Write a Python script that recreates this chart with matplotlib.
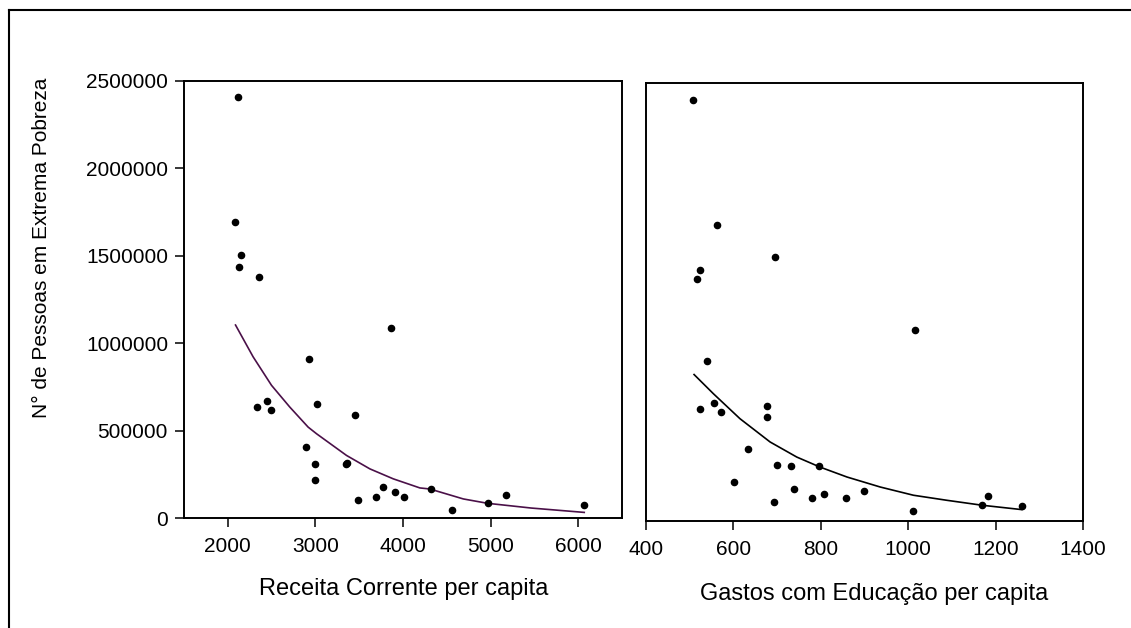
#!/usr/bin/env python3
"""Extreme poverty vs. per capita revenue / education spending (two scatter panels)."""

import matplotlib
matplotlib.use('Agg')
import matplotlib.pyplot as plt
from matplotlib.lines import Line2D

plt.rcParams['font.family'] = ['Liberation Sans', 'DejaVu Sans']
plt.rcParams['font.size'] = 15

# --- data ---
receita = [2080, 2117, 2133, 2156, 2331, 2358, 2442, 2492, 2897, 2930, 2995, 2995,
           3018, 3350, 3360, 3449, 3487, 3696, 3773, 3868, 3907, 4010, 4315, 4555,
           4966, 5171, 6063]
pobres_r = [1695000, 2411000, 1434000, 1507000, 635000, 1381000, 668000, 617000,
            406000, 911000, 308000, 218000, 651000, 310000, 313000, 588000, 103000,
            122000, 176000, 1086000, 147000, 122000, 164000, 48000, 84000, 134000,
            76000]

educacao = [508, 517, 523, 523, 539, 556, 563, 572, 602, 633, 678, 678, 692, 695,
            699, 732, 738, 779, 796, 808, 857, 898, 1012, 1016, 1169, 1183, 1260]
pobres_e = [2403000, 1380000, 1433000, 639000, 913000, 674000, 1692000, 622000,
            225000, 413000, 655000, 592000, 111000, 1505000, 318000, 314000, 183000,
            131000, 314000, 154000, 131000, 171000, 57000, 1088000, 91000, 143000,
            86000]

# fitted curves
fit_r_x = [2088, 2289, 2499, 2707, 2917, 3013, 3355, 3622, 3889, 4193, 4306, 4689,
           4966, 5463, 6069]
fit_r_y = [1104000, 922000, 759000, 635000, 520000, 482000, 358000, 281000, 224000,
           172000, 166000, 109000, 84000, 57000, 32000]

fit_e_x = [510, 554, 615, 684, 745, 798, 860, 936, 1012, 1089, 1169, 1260]
fit_e_y = [836000, 727000, 584000, 451000, 365000, 308000, 251000, 194000, 147000,
           118000, 90000, 65000]

yticks = [0, 500000, 1000000, 1500000, 2000000, 2500000]
xticks_r = [2000, 3000, 4000, 5000, 6000]
xticks_e = [400, 600, 800, 1000, 1200, 1400]

W, H = 1131, 628
fig = plt.figure(figsize=(W / 100, H / 100), dpi=100)


def px_axes(x0, y0, x1, y1):
    return fig.add_axes([x0 / W, 1 - y1 / H, (x1 - x0) / W, (y1 - y0) / H])


ax1 = px_axes(184, 81, 622, 518)
ax2 = px_axes(646, 83, 1083, 521)

for ax in (ax1, ax2):
    for s in ax.spines.values():
        s.set_linewidth(1.4)
        s.set_color('black')
    ax.tick_params(direction='out', length=6.5, width=1.1, pad=5, labelsize=15)
    ax.set_ylim(0, 2500000)

ax1.scatter(receita, pobres_r, s=20, color='black', zorder=3)
ax1.plot(fit_r_x, fit_r_y, color='#4a1048', lw=1.2)
ax1.set_xlim(1500, 6500)
ax1.set_xticks(xticks_r)
ax1.set_yticks(yticks)
ax1.set_yticklabels([str(v) for v in yticks])
ax1.tick_params(axis='x', pad=7)
ax1.set_xlabel('Receita Corrente per capita', fontsize=17)
ax1.xaxis.set_label_coords(0.502, -0.137)

ax2.scatter(educacao, pobres_e, s=20, color='black', zorder=3)
ax2.plot(fit_e_x, fit_e_y, color='black', lw=1.2)
ax2.set_xlim(400, 1400)
ax2.set_xticks(xticks_e)
ax2.set_yticks([])
ax2.tick_params(axis='x', pad=7)
ax2.set_xlabel('Gastos com Educação per capita', fontsize=17)
ax2.xaxis.set_label_coords(0.522, -0.141)

fig.text(42 / W, 1 - 248 / H, 'N° de Pessoas em Extrema Pobreza', rotation=90,
         ha='center', va='center', fontsize=15)

# outer frame (top and left edges visible in the reference)
fig.add_artist(Line2D([9 / W, 9 / W], [0, 1 - 10 / H], color='black', lw=1.5,
                      transform=fig.transFigure))
fig.add_artist(Line2D([9 / W, 1], [1 - 10 / H, 1 - 10 / H], color='black', lw=1.5,
                      transform=fig.transFigure))

fig.savefig('out.png', dpi=100)
